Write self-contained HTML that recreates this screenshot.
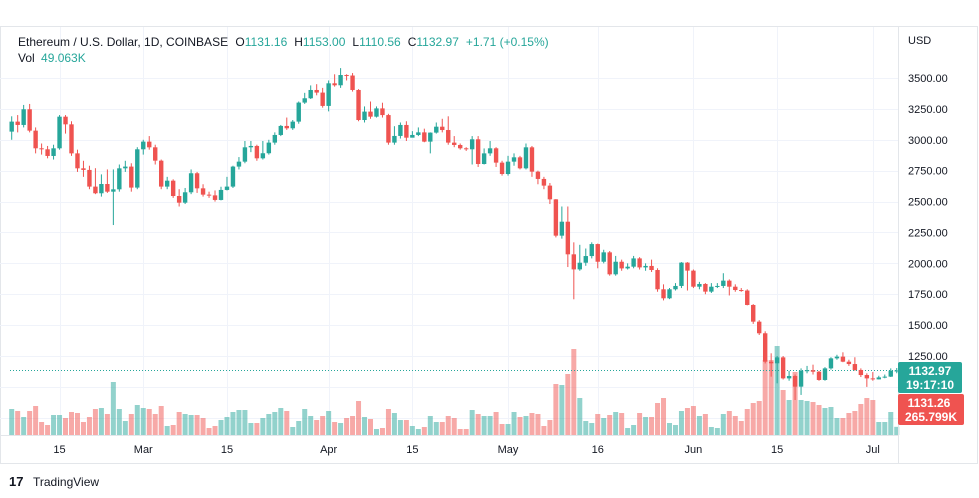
<!DOCTYPE html>
<html><head><meta charset="utf-8"><style>
body{margin:0;background:#fff;font-family:"Liberation Sans",sans-serif}
svg{display:block}
text{font-family:"Liberation Sans",sans-serif}
</style></head><body>
<svg id="c" width="979" height="498" viewBox="0 0 979 498">
<rect x="0.5" y="26.5" width="977" height="437" fill="#fff" stroke="#e3e6ea"/>
<g id="grid"></g>
<g id="vols"></g>
<line x1="10" x2="898" y1="370.5" y2="370.5" stroke="#26a69a" stroke-dasharray="1,2" id="pline"/>
<g id="cands"></g>
<line x1="898.5" x2="898.5" y1="27" y2="463" stroke="#e3e6ea"/>
<line x1="0" x2="898" y1="435.5" y2="435.5" stroke="#e3e6ea"/>
<g id="yax"></g>
<g id="xax"></g>
<text x="908" y="44" font-size="11" fill="#131722">USD</text>
<text x="18" y="46" font-size="12" fill="#131722">Ethereum / U.S. Dollar, 1D, COINBASE <tspan dx="4">O</tspan><tspan fill="#26a69a">1131.16</tspan><tspan dx="7">H</tspan><tspan fill="#26a69a">1153.00</tspan><tspan dx="7">L</tspan><tspan fill="#26a69a">1110.56</tspan><tspan dx="7">C</tspan><tspan fill="#26a69a">1132.97</tspan><tspan dx="7" fill="#26a69a">+1.71 (+0.15%)</tspan></text>
<text x="18" y="62" font-size="12" fill="#131722">Vol <tspan dx="3" fill="#26a69a">49.063K</tspan></text>
<g>
<rect x="898" y="362" width="64" height="31" rx="2" fill="#26a69a"/>
<text x="930" y="375" font-size="12" font-weight="bold" fill="#fff" text-anchor="middle">1132.97</text>
<text x="930" y="389" font-size="12" font-weight="bold" fill="#fff" text-anchor="middle">19:17:10</text>
</g>
<g>
<rect x="898" y="394" width="66" height="31" rx="2" fill="#ef5350"/>
<text x="929" y="407" font-size="12" font-weight="bold" fill="#fff" text-anchor="middle">1131.26</text>
<text x="931" y="421" font-size="12" font-weight="bold" fill="#fff" text-anchor="middle">265.799K</text>
</g>
<g>
<text x="9" y="486" font-size="13" font-weight="bold" fill="#131722">17</text>
<text x="33" y="486" font-size="12" fill="#131722">TradingView</text>
</g>
</svg>
<script>
const opens=[3066,3147,3120,3247,3074,2931,2923,2869,2931,3187,3125,2890,2769,2756,2621,2567,2642,2580,2599,2769,2783,2613,2923,2985,2939,2831,2621,2669,2545,2491,2575,2729,2607,2556,2550,2513,2594,2621,2783,2823,2939,2950,2850,2891,2977,3039,3112,3093,3147,3301,3336,3403,3382,3274,3457,3441,3524,3520,3403,3160,3228,3187,3254,3200,2977,3031,3120,3017,3039,3060,2985,3058,3106,3079,2977,2958,2931,2923,3004,2804,2890,2931,2815,2723,2823,2858,2769,2939,2742,2683,2629,2518,2224,2337,2073,1951,2005,2059,2156,2013,2089,1911,2013,1959,1973,2040,1967,1979,1946,1790,1717,1790,1817,2006,1941,1811,1833,1771,1811,1817,1860,1811,1784,1780,1663,1528,1434,1204,1191,1239,1069,1088,1002,1131,1135,1123,1056,1150,1231,1245,1204,1185,1137,1096,1069,1061,1077,1083,1131.16];
const closes=[3147,3120,3247,3074,2931,2923,2869,2931,3187,3125,2890,2769,2756,2621,2567,2642,2580,2599,2769,2783,2613,2923,2985,2939,2831,2621,2669,2545,2491,2575,2729,2607,2556,2550,2513,2594,2621,2783,2823,2939,2950,2850,2891,2977,3039,3112,3093,3147,3301,3336,3403,3382,3274,3457,3441,3524,3520,3403,3160,3228,3187,3254,3200,2977,3031,3120,3017,3039,3060,2985,3058,3106,3079,2977,2958,2931,2923,3004,2804,2890,2931,2815,2723,2823,2858,2769,2939,2742,2683,2629,2518,2224,2337,2073,1951,2005,2059,2156,2013,2089,1911,2013,1959,1973,2040,1967,1979,1946,1790,1717,1790,1817,2006,1941,1811,1833,1771,1811,1817,1860,1811,1784,1780,1663,1528,1434,1204,1191,1239,1069,1088,1002,1131,1135,1123,1056,1150,1231,1245,1204,1185,1137,1096,1069,1061,1077,1083,1131,1132.97];
const highs=[3190,3200,3282,3290,3100,2970,2950,2960,3200,3200,3150,2920,2830,2790,2770,2720,2760,2760,2800,2830,2810,2940,3000,3030,2960,2840,2700,2680,2600,2610,2760,2740,2640,2580,2590,2620,2700,2790,2860,2990,2990,2960,2990,3000,3060,3120,3180,3160,3310,3380,3440,3450,3420,3480,3530,3580,3530,3540,3410,3270,3310,3270,3300,3210,3110,3140,3150,3070,3100,3090,3060,3140,3170,3190,3030,2970,2940,3030,3030,2930,2990,2940,2830,2870,2890,2870,2970,2950,2750,2700,2650,2520,2460,2460,2170,2150,2120,2170,2160,2110,2100,2060,2030,2000,2060,2050,2000,2030,1960,1830,1800,1840,2010,2010,1950,1850,1840,1840,1840,1920,1870,1830,1800,1790,1670,1540,1450,1272,1250,1250,1130,1100,1150,1170,1180,1130,1160,1240,1260,1280,1220,1240,1150,1110,1120,1090,1100,1150,1153];
const lows=[3000,3060,3100,3060,2890,2880,2850,2840,2920,3050,2870,2740,2700,2600,2560,2540,2570,2310,2580,2740,2580,2600,2880,2920,2800,2600,2600,2530,2460,2480,2560,2570,2540,2530,2500,2510,2590,2610,2760,2810,2900,2830,2840,2880,2960,3030,3080,3080,3130,3290,3330,3360,3260,3230,3430,3420,3480,3390,3150,3140,3170,3180,3180,2960,2960,3010,2990,3020,3030,2980,2890,3050,3060,2960,2940,2920,2910,2800,2780,2800,2870,2780,2710,2710,2790,2760,2760,2700,2640,2600,2480,2210,2200,1970,1709,1940,1980,2040,1960,2000,1900,1900,1940,1950,1960,1950,1940,1930,1770,1700,1710,1780,1800,1780,1800,1790,1750,1760,1800,1800,1740,1770,1770,1660,1510,1420,1190,1083,1029,1060,1050,894,935,1110,1100,1050,1050,1140,1220,1200,1170,1130,1080,1000,1050,1060,1070,1080,1110.56];
const volumes=[156,144,108,144,174,78,60,120,120,102,138,132,78,108,156,162,126,318,156,84,126,180,162,156,126,174,54,60,138,126,120,120,102,42,54,90,108,138,150,150,72,72,102,126,138,162,144,48,84,156,114,90,114,144,78,72,102,114,204,108,96,36,42,156,132,90,90,54,36,48,114,78,78,114,102,36,36,150,126,114,114,138,66,66,138,108,114,132,126,54,90,306,300,366,516,222,84,72,126,102,120,138,132,42,60,132,108,108,192,222,72,60,144,162,174,114,126,48,42,126,144,114,84,156,192,204,450,450,534,270,210,378,210,204,198,180,162,168,102,102,132,144,186,222,210,78,78,138,49];
const priceTicks=[3500,3250,3000,2750,2500,2250,2000,1750,1500,1250];
const priceTickLabels=["3500.00","3250.00","3000.00","2750.00","2500.00","2250.00","2000.00","1750.00","1500.00","1250.00"];
const gridOnlyTicks=[1000,750];
const dateTickIdx=[8,22,36,53,67,83,98,114,128,144];
const dateTickLabels=["15","Mar","15","Apr","15","May","16","Jun","15","Jul"];

const NS="http://www.w3.org/2000/svg";
const X0=11.7, STEP=5.98;
function xOf(i){return X0+i*STEP;}
function yOf(p){return 78+(3500-p)*0.12356;}
function vH(v){return v/6;}
const VBASE=435;
function mk(tag,attrs,parent){const e=document.createElementNS(NS,tag);for(const k in attrs)e.setAttribute(k,attrs[k]);parent.appendChild(e);return e;}
const G="#26a69a",R="#ef5350";
const grid=document.getElementById('grid');
priceTicks.concat(gridOnlyTicks).forEach(p=>{
  const l=mk('line',{x1:0,x2:898,y1:Math.round(yOf(p))+0.5,y2:Math.round(yOf(p))+0.5,stroke:'#f0f3fa'},grid);
  
  
});
dateTickIdx.forEach(i=>{
  const l=mk('line',{x1:Math.round(xOf(i))+0.5,x2:Math.round(xOf(i))+0.5,y1:27,y2:435,stroke:'#f0f3fa'},grid);
  
  
});
const yax=document.getElementById('yax');
priceTicks.forEach((p,k)=>{
  const t=mk('text',{x:908,y:yOf(p)+4,'font-size':11,fill:'#131722'},yax);
  t.textContent=priceTickLabels[k];
  
  
});
const xax=document.getElementById('xax');
dateTickIdx.forEach((i,k)=>{
  const t=mk('text',{x:xOf(i),y:453,'font-size':11,fill:'#131722','text-anchor':'middle'},xax);
  t.textContent=dateTickLabels[k];
  
  
});
const vols=document.getElementById('vols');
volumes.forEach((v,i)=>{
  const up=closes[i]>=opens[i];
  const h=vH(v);
  const r=mk('rect',{x:xOf(i)-2.5,y:VBASE-h,width:5,height:h,fill:up?G:R,'fill-opacity':0.5},vols);
  
  
});
const cands=document.getElementById('cands');
closes.forEach((c,i)=>{
  const o=opens[i],up=c>=o,col=up?G:R,x=xOf(i);
  const g=mk('g',{},cands);
  
  
  mk('line',{x1:x,x2:x,y1:yOf(highs[i]),y2:yOf(lows[i]),stroke:col,'stroke-width':1},g);
  const t=yOf(Math.max(o,c)),b=yOf(Math.min(o,c));
  mk('rect',{x:x-2.2,y:t,width:4.4,height:Math.max(1,b-t),fill:col},g);
});
document.getElementById('pline').setAttribute('y1',yOf(closes[closes.length-1]));
document.getElementById('pline').setAttribute('y2',yOf(closes[closes.length-1]));
</script>
</body></html>
